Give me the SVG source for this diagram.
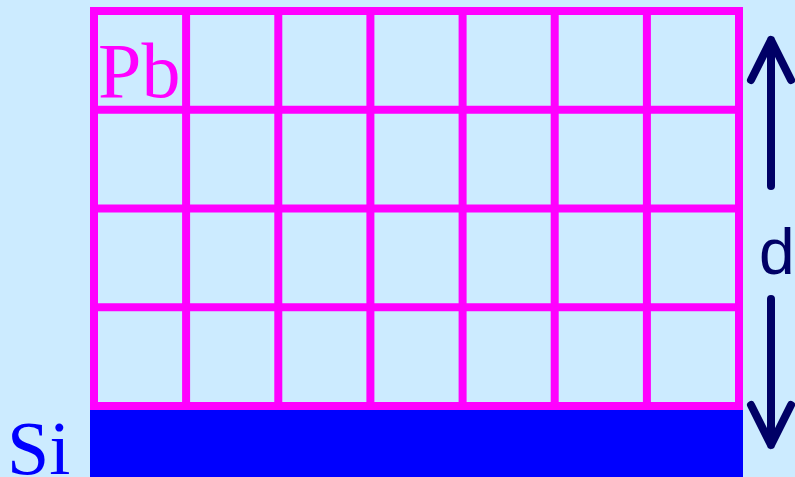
<svg xmlns="http://www.w3.org/2000/svg" width="795" height="477" viewBox="0 0 795 477">
<style>
.grid{stroke:#FF00FF;stroke-width:8;fill:none}
.arr{stroke:#000066;stroke-width:8;fill:none;stroke-linecap:round;stroke-linejoin:round}
.serif{font-family:"Liberation Serif","Times New Roman",serif}
.sans{font-family:"Liberation Sans",Arial,sans-serif}
</style>
<rect width="795" height="477" fill="#CCEBFF"/>
<g id="si">
<rect x="90" y="410" width="653" height="70" fill="#0000FF"/>
<text x="7" y="474" class="serif" font-size="76" fill="#0000FF">Si</text>
</g>
<g id="pb">
<path class="grid" d="M94,11V406M186.1,11V406M278.3,11V406M370.4,11V406M462.6,11V406M554.7,11V406M646.9,11V406M739,11V406M90,11H743M90,109.75H743M90,208.5H743M90,307.25H743M90,406H743"/>
<text x="98" y="97" class="serif" font-size="78" fill="#FF00FF">Pb</text>
</g>
<g id="connectors">
<path class="arr" d="M771,186V40M751,80L771,40L791,80"/>
<path class="arr" d="M771,299V445M751,405L771,445L791,405"/>
</g>
<g id="d">
<text x="759" y="274" class="sans" font-size="64" fill="#000066">d</text>
</g>
</svg>
